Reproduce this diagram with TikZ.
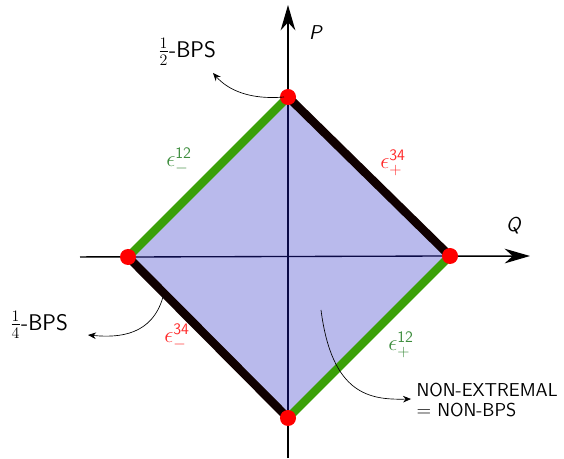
\documentclass[tikz,border=0pt]{standalone}
\usepackage{amsmath}
\usetikzlibrary{arrows.meta}
\renewcommand{\familydefault}{\sfdefault}
\definecolor{edgegreen}{RGB}{58,160,8}
\definecolor{labgreen}{RGB}{60,140,60}
\definecolor{labred}{RGB}{255,40,40}
\definecolor{fillblue}{RGB}{185,186,236}
\definecolor{navy}{RGB}{10,10,70}
\definecolor{edgeblack}{RGB}{16,0,0}
\tikzset{
  axis/.style={line width=1.1pt,-{Stealth[length=19pt,width=11pt,inset=6pt]}},
  thickedge/.style={line width=6.3pt,line cap=round},
  vdot/.style={circle,fill=red,inner sep=0pt,minimum size=12pt},
  lbl/.style={inner sep=1pt},
  pointer/.style={line width=0.5pt,-{Stealth[length=6pt,width=5pt,inset=2pt]}}
}
\begin{document}
\begin{tikzpicture}[x=0.75pt,y=-0.75pt]
\useasboundingbox (0,0) rectangle (564,459);
% vertices
\coordinate (T) at (288,97);
\coordinate (R) at (450,256);
\coordinate (B) at (288,418);
\coordinate (L) at (128,257);
\coordinate (axb) at (288,458);
\coordinate (axt) at (288,5);
\coordinate (axl) at (80,257);
\coordinate (axr) at (530,256);
% axes
\draw[axis] (axb) -- (axt);
\draw[axis] (axl) -- (axr);
% fill
\fill[fillblue] (T) -- (R) -- (B) -- (L) -- cycle;
\draw[navy,line width=1pt] (T) -- (B);
\draw[navy,line width=1pt] (L) -- (R);
% edges
\draw[thickedge,edgegreen] (L) -- (T);
\draw[thickedge,edgegreen] (R) -- (B);
\draw[thickedge,edgeblack] (T) -- (R);
\draw[thickedge,edgeblack] (B) -- (L);
% dots
\node[vdot] (vT) at (T) {};
\node[vdot] (vR) at (R) {};
\node[vdot] (vB) at (B) {};
\node[vdot] (vL) at (L) {};
% axis labels
\node[lbl] (P) at (316,33) {\fontsize{15}{18}\selectfont\textit{P}};
\node[lbl] (Q) at (514,226) {\fontsize{15}{18}\selectfont\textit{Q}};
% edge labels
\node[lbl,text=labgreen] (e1) at (179,161) {\fontsize{17}{20}\selectfont$\epsilon^{\mathsf{12}}_{-}$};
\node[lbl,text=labred] (e2) at (393,163) {\fontsize{17}{20}\selectfont$\epsilon^{\mathsf{34}}_{+}$};
\node[lbl,text=labred] (e3) at (177,337) {\fontsize{17}{20}\selectfont$\epsilon^{\mathsf{34}}_{-}$};
\node[lbl,text=labgreen] (e4) at (401,345) {\fontsize{17}{20}\selectfont$\epsilon^{\mathsf{12}}_{+}$};
% annotation labels
\node[lbl] (half) at (187,52) {\fontsize{17}{20}\selectfont$\frac{1}{2}$-BPS};
\node[lbl] (quart) at (39,325) {\fontsize{17}{20}\selectfont$\frac{1}{4}$-BPS};
\node[lbl,anchor=west,align=left,font=\fontsize{14}{15}\selectfont] (nonext) at (415,400) {NON-EXTREMAL\\$=$ NON-BPS};
% pointer anchors
\coordinate (phs) at (284,97);
\coordinate (phe) at (213,73);
\coordinate (pqs) at (163,297);
\coordinate (pqe) at (88,335);
\coordinate (pns) at (321,310);
\coordinate (pne) at (411,399);
\draw[pointer] (phs) .. controls (250,100) and (228,90) .. (phe);
\draw[pointer] (pqs) .. controls (152,335) and (120,338) .. (pqe);
\draw[pointer] (pns) .. controls (332,395) and (370,400) .. (pne);
\end{tikzpicture}
\end{document}
